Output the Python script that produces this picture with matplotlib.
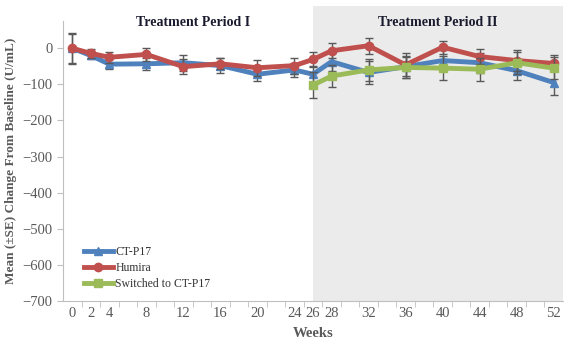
import matplotlib.pyplot as plt
from matplotlib.patches import Rectangle

weeks = [0, 2, 4, 8, 12, 16, 20, 24, 26, 28, 32, 36, 40, 44, 48, 52]
ct_p17 = [0, -20, -44, -43, -40, -48, -72, -60, -72, -37, -67, -51, -34, -40, -62, -95]
ct_p17_se = [40, 10, 14, 17, 22, 21, 19, 20, 22, 25, 32, 30, 30, 28, 26, 34]
humira = [0, -14, -25, -17, -51, -43, -54, -48, -31, -7, 7, -46, 3, -23, -34, -42]
humira_se = [43, 12, 15, 17, 20, 15, 22, 22, 20, 21, 22, 32, 18, 20, 28, 22]
sw_weeks = [26, 28, 32, 36, 40, 44, 48, 52]
switched = [-102, -77, -60, -53, -55, -58, -40, -55]
switched_se = [35, 31, 30, 30, 33, 32, 30, 30]
tick_weeks = [0, 2, 4, 8, 12, 16, 20, 24, 26, 28, 32, 36, 40, 44, 48, 52]

serif = ['Liberation Serif', 'DejaVu Serif']
plt.rcParams['font.family'] = serif

fig = plt.figure(figsize=(5.64, 3.39), dpi=100)
ax = fig.add_axes([0.1117, 0.112, 0.8865, 0.8255])

# shaded second period, reaching above the axes
ax.add_patch(Rectangle((26, -700), 27, 817, facecolor='#ebebeb', edgecolor='none',
                       clip_on=False, zorder=0))

eb = dict(ecolor='#595959', elinewidth=1, capsize=3, capthick=1)
series = [(weeks, ct_p17, ct_p17_se, '#4f81bd', '^', 'CT-P17', 3),
          (weeks, humira, humira_se, '#c0504d', 'o', 'Humira', 4),
          (sw_weeks, switched, switched_se, '#9bbb59', 's', 'Switched to CT-P17', 5)]
handles = []
for x, y, e, c, m, lab, z in series:
    h = ax.errorbar(x, y, yerr=e, color=c, lw=3.5, marker=m, ms=6, label=lab,
                    zorder=z, **eb)
    handles.append(h[0])

ax.set_xlim(-1, 53)
ax.set_ylim(-700, 75)
ax.set_yticks(range(-700, 1, 100))
ax.set_xticks(tick_weeks)
ax.set_xticks(range(1, 53, 2), minor=True)
ax.tick_params(axis='x', which='major', length=0, pad=4, labelsize=10.5, colors='#595959')
ax.tick_params(axis='x', which='minor', length=4, color='#bfbfbf', direction='out')
ax.tick_params(axis='y', length=4, color='#bfbfbf', labelsize=10.5, colors='#595959')
ax.patch.set_alpha(0)
for s in ['top', 'right']:
    ax.spines[s].set_visible(False)
for s in ['left', 'bottom']:
    ax.spines[s].set_color('#bfbfbf')

ax.set_ylabel('Mean (±SE) Change From Baseline (U/mL)', fontweight='bold',
              fontsize=9.5, color='#595959', labelpad=4)
ax.set_xlabel('Weeks', fontweight='bold', fontsize=10.5, color='#595959', labelpad=5)

ax.text(13, 70, 'Treatment Period I', ha='center', va='center', fontweight='bold',
        fontsize=10, color='#1a1a2e')
ax.text(39.5, 70, 'Treatment Period II', ha='center', va='center', fontweight='bold',
        fontsize=10, color='#1a1a2e')

ax.legend(handles, [s[5] for s in series], loc='lower left', bbox_to_anchor=(0.02, 0.0),
          frameon=False, fontsize=8.5, handlelength=2.5, labelspacing=0.35,
          handletextpad=0.2, labelcolor='#333333')

fig.savefig('out.png', dpi=100)
